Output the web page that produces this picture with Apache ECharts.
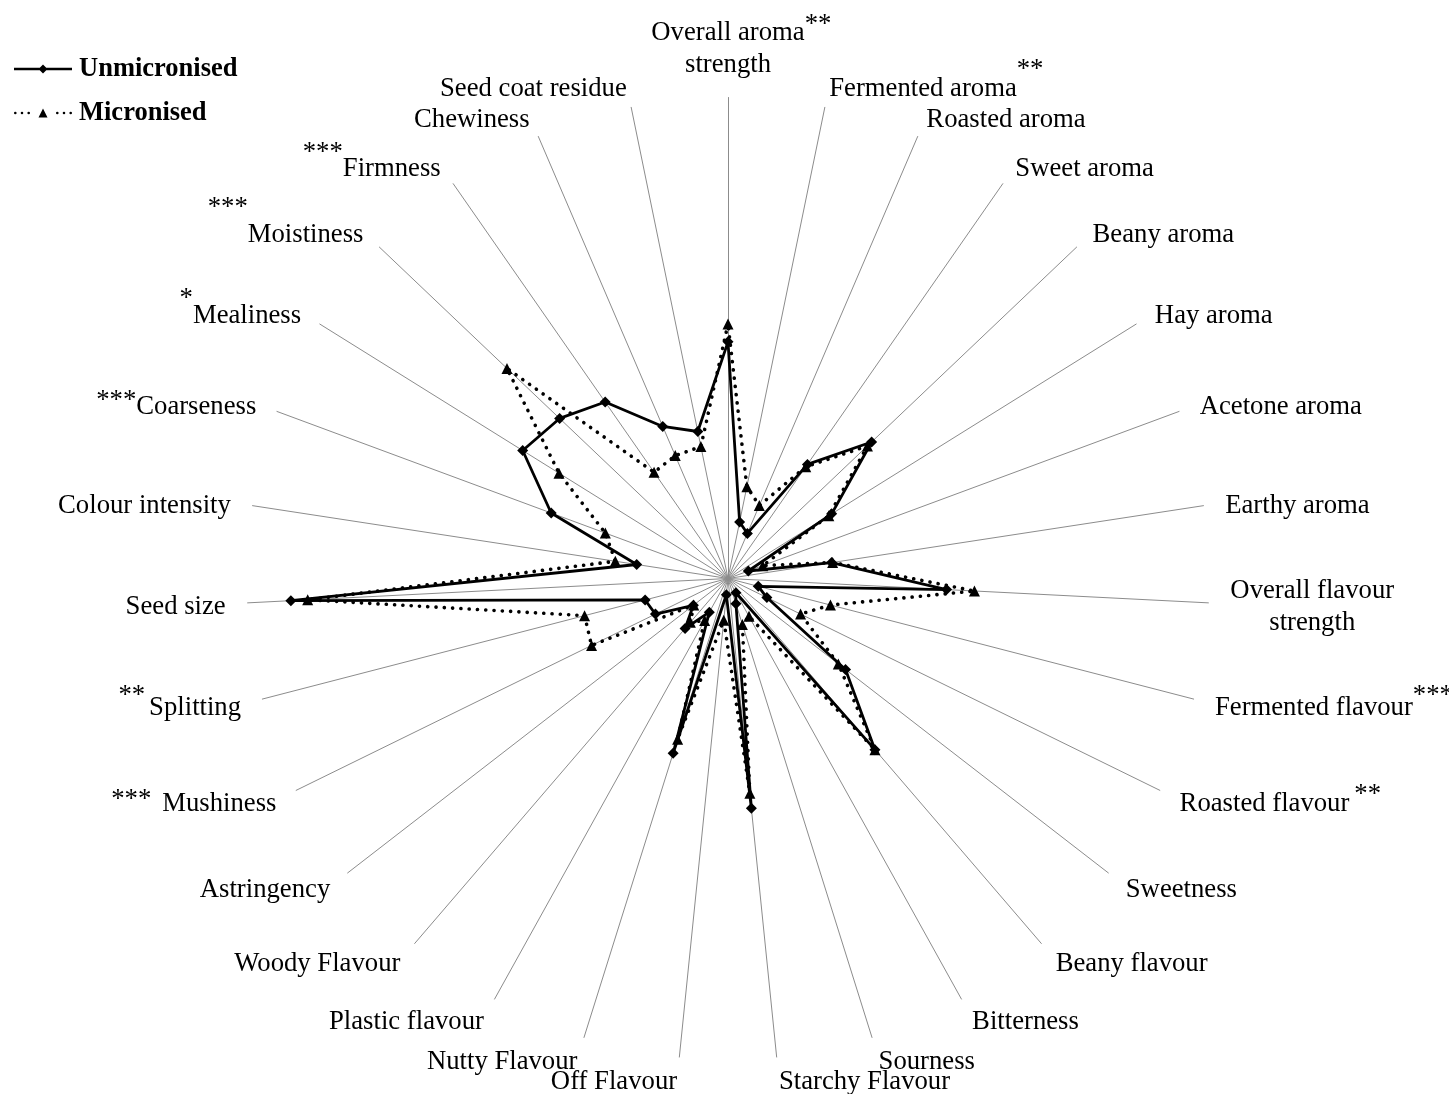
<!DOCTYPE html>
<html>
<head>
<meta charset="utf-8">
<script src="https://cdn.jsdelivr.net/npm/echarts@6/dist/echarts.min.js"></script>
<style>
  html, body { margin: 0; padding: 0; background: #fff; }
  #chart { width: 1449px; height: 1094px; }
</style>
</head>
<body>
<div id="chart"></div>
<script>
// Sensory attributes, listed clockwise from the top spoke
const attributes = [
  'Overall aroma strength', 'Fermented aroma', 'Roasted aroma', 'Sweet aroma',
  'Beany aroma', 'Hay aroma', 'Acetone aroma', 'Earthy aroma',
  'Overall flavour strength', 'Fermented flavour', 'Roasted flavour', 'Sweetness',
  'Beany flavour', 'Bitterness', 'Sourness', 'Starchy Flavour', 'Off Flavour',
  'Nutty Flavour', 'Plastic flavour', 'Woody Flavour', 'Astringency', 'Mushiness',
  'Splitting', 'Seed size', 'Colour intensity', 'Coarseness', 'Mealiness',
  'Moistiness', 'Firmness', 'Chewiness', 'Seed coat residue'
];

// Significance of the difference between the two treatments
const significance = [
  '**', '**', '', '', '', '', '', '',
  '', '***', '**', '',
  '', '', '', '', '',
  '', '', '', '', '***',
  '**', '', '', '***', '*',
  '***', '***', '', ''
];

// Mean panel scores, same order as the attributes
const unmicronised = [
  49.2, 12.0, 10.2, 28.9, 41.2, 25.4, 4.5, 21.8,
  45.5, 6.5, 9.0, 30.9, 46.9, 3.4, 5.5, 48.0, 3.4,
  38.1, 8.0, 13.7, 9.1, 16.8, 17.8, 91.0, 19.2,
  39.2, 50.3, 48.3, 44.7, 34.4, 31.2
];
const micronised = [
  52.9, 19.5, 16.5, 28.3, 40.0, 24.7, 7.7, 22.0,
  51.3, 22.0, 16.8, 29.0, 46.9, 9.0, 10.0, 44.9, 8.7,
  35.0, 10.0, 12.0, 9.0, 31.6, 30.8, 87.5, 23.7,
  27.2, 41.4, 63.4, 26.9, 27.8, 28.0
];
const seriesNames = ['Unmicronised', 'Micronised'];
const scaleMax = 100;

// ---- styling ----
const FONT = '"Liberation Serif", "Times New Roman", Times, serif';
const FS = 26.7;
const LH = 32;

// where the significance stars sit relative to each attribute name
const starLayout = {
  'Overall aroma strength': { side: 'after', raise: 20, gap: 0 },
  'Fermented aroma':        { side: 'after', raise: 19.5, gap: 0 },
  'Fermented flavour':      { side: 'after', raise: 12.5, gap: 0 },
  'Roasted flavour':        { side: 'after', raise: 8.5, gap: 5 },
  'Mushiness':              { side: 'before', raise: 3.5, gap: 11 },
  'Splitting':              { side: 'before', raise: 12.5, gap: 4 },
  'Coarseness':             { side: 'before', raise: 6.5, gap: 0 },
  'Mealiness':              { side: 'before', raise: 16.5, gap: 0 },
  'Moistiness':             { side: 'before', raise: 27.5, gap: 0 },
  'Firmness':               { side: 'before', raise: 16.5, gap: 0 }
};
const wrapped = {
  'Overall aroma strength': ['Overall aroma', 'strength'],
  'Overall flavour strength': ['Overall flavour', 'strength']
};

const ctx = document.createElement('canvas').getContext('2d');
ctx.font = FS + 'px ' + FONT;
function textWidth(s) { return ctx.measureText(s).width; }

const baseText = { fontFamily: FONT, fontSize: FS, color: '#000', lineHeight: LH };
const rich = {
  t: Object.assign({}, baseText),
  tc: Object.assign({}, baseText, { align: 'center' })
};
const labelText = {};

attributes.forEach(function (name, i) {
  const stars = significance[i];
  const lay = starLayout[name];
  const key = 's' + i;
  if (wrapped[name]) {
    const lines = wrapped[name];
    if (stars) {
      // top label: stars hang off the first line, the left padding keeps that line centred
      const L1 = 42, L2 = 22;
      rich[key] = Object.assign({}, baseText, { verticalAlign: 'top', lineHeight: Math.max(1, L1 - 2 * lay.raise) });
      rich['p' + i] = Object.assign({}, baseText, { lineHeight: L1, padding: [0, 0, 0, textWidth(stars)] });
      rich['b' + i] = Object.assign({}, baseText, { lineHeight: L2, align: 'center' });
      labelText[name] = '{p' + i + '|' + lines[0] + '}{' + key + '|' + stars + '}\n{b' + i + '|' + lines[1] + '}';
    } else {
      labelText[name] = '{t|' + lines[0] + '}\n{tc|' + lines[1] + '}';
    }
    return;
  }
  if (!stars) {
    labelText[name] = '{t|' + name + '}';
    return;
  }
  const pad = lay.side === 'before'
    ? [0, lay.gap, 2 * lay.raise, 0]
    : [0, 0, 2 * lay.raise, lay.gap];
  rich[key] = Object.assign({}, baseText, { padding: pad });
  labelText[name] = lay.side === 'before'
    ? '{' + key + '|' + stars + '}{t|' + name + '}'
    : '{t|' + name + '}{' + key + '|' + stars + '}';
});

// ECharts lays radar indicators out counter-clockwise, so walk the list backwards
const order = [0];
for (let i = attributes.length - 1; i >= 1; i--) order.push(i);
const pick = function (arr) { return order.map(function (i) { return arr[i]; }); };

const indicator = pick(attributes).map(function (name) {
  return { name: name, min: 0, max: scaleMax };
});

// legend keys: a line with the marker in the middle
const dots = [1.3, 8, 14.7, 43.3, 50, 56.7].map(function (x) {
  return 'M' + (x - 1.3) + ',5.3 a1.3,1.3 0 1,0 2.6,0 a1.3,1.3 0 1,0 -2.6,0 Z';
}).join(' ');
const iconSolid = 'path://M0,4 L58,4 L58,6.6 L0,6.6 Z M24.5,5.3 L29,0.8 L33.5,5.3 L29,9.8 Z';
const iconDotted = 'path://' + dots + ' M29,0.8 L33.5,9.8 L24.5,9.8 Z';

const chart = echarts.init(document.getElementById('chart'), null, { renderer: 'canvas' });
chart.setOption({
  animation: false,
  backgroundColor: '#fff',
  legend: {
    orient: 'vertical',
    left: 14,
    top: 54,
    padding: 0,
    itemWidth: 58,
    itemHeight: 9,
    itemGap: 14,
    selectedMode: false,
    textStyle: { fontFamily: FONT, fontSize: 26.5, fontWeight: 'bold', color: '#000', padding: [0, 0, 0, 2], lineHeight: 30 },
    data: [
      { name: seriesNames[0], icon: iconSolid },
      { name: seriesNames[1], icon: iconDotted }
    ]
  },
  radar: {
    center: [728, 578.5],
    radius: 481,
    startAngle: 90,
    shape: 'polygon',
    indicator: indicator,
    axisNameGap: 22,
    axisName: {
      color: '#000',
      fontFamily: FONT,
      fontSize: FS,
      lineHeight: LH,
      padding: [7, 0, 0, 0],
      rich: rich,
      formatter: function (name) { return labelText[name]; }
    },
    axisLine: { lineStyle: { color: '#8c8c8c', width: 1 } },
    splitLine: { show: false },
    splitArea: { show: false },
    axisTick: { show: false },
    axisLabel: { show: false }
  },
  series: [{
    type: 'radar',
    silent: true,
    emphasis: { disabled: true },
    data: [
      {
        name: seriesNames[0],
        value: pick(unmicronised),
        symbol: 'diamond',
        symbolSize: 11,
        itemStyle: { color: '#000' },
        lineStyle: { color: '#000', width: 2.8, type: 'solid' }
      },
      {
        name: seriesNames[1],
        value: pick(micronised),
        symbol: 'triangle',
        symbolSize: 11,
        itemStyle: { color: '#000' },
        lineStyle: { color: '#000', width: 3.6, type: [0.1, 8.2], cap: 'round' }
      }
    ]
  }]
});
</script>
</body>
</html>
